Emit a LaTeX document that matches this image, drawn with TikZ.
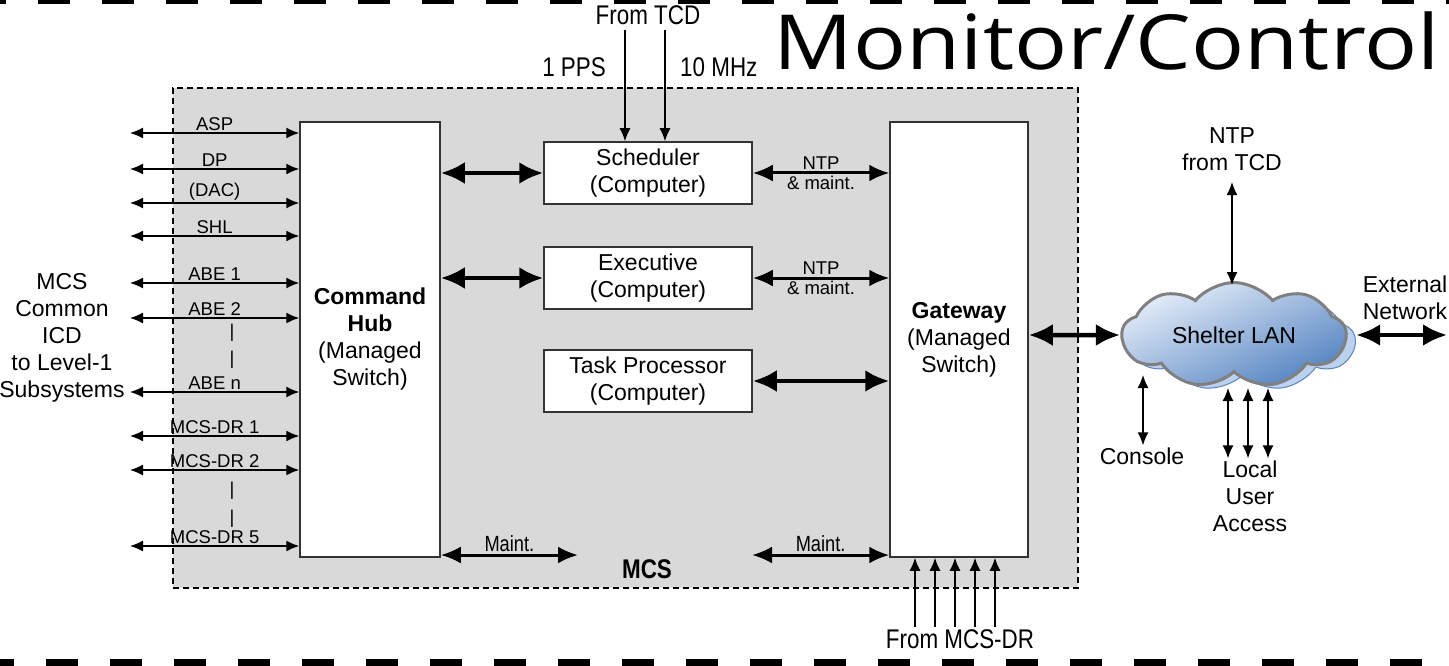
\documentclass[tikz,border=0pt]{standalone}
\usepackage{fontspec}
\setmainfont{Liberation Sans}
\newfontfamily\titlefont[FakeStretch=1.16]{Open Sans}
\newfontfamily\condfont[FakeStretch=0.83]{Liberation Sans}
\usetikzlibrary{arrows.meta,shapes.symbols,positioning}
\definecolor{mcsgray}{HTML}{D9D9D9}
\definecolor{lanlight}{HTML}{E6EEF9}
\definecolor{landark}{HTML}{5584C2}
\definecolor{lanshade}{HTML}{BCD1EE}
\newcommand{\lblfont}{\fontsize{18.5}{20}\selectfont}
\newcommand{\txtfont}{\fontsize{23}{27}\selectfont}
\newcommand{\condlbl}{\condfont\fontsize{27}{30}\selectfont}

\begin{document}
\begin{tikzpicture}[x=1pt, y=-1pt,
  box/.style={draw=black!80, line width=1.5pt, fill=white, font=\txtfont, align=center, inner sep=0pt},
  sigarrow/.style={line width=1.4pt, {Latex[length=13pt,width=11pt]}-{Latex[length=13pt,width=11pt]}},
  sigin/.style={line width=1.4pt, -{Latex[length=13pt,width=11pt]}},
  midarrow/.style={line width=3pt, {Latex[length=20pt,width=17pt]}-{Latex[length=20pt,width=17pt]}},
  busarrow/.style={line width=4.5pt, {Latex[length=24pt,width=22pt]}-{Latex[length=24pt,width=22pt]}},
  lbl/.style={font=\lblfont, inner sep=2pt},
  lanshape/.style={cloud, cloud puffs=9, cloud puff arc=100, aspect=2.3, minimum width=224pt, minimum height=100pt}]
\useasboundingbox (0,0) rectangle (1449,666);
% page frame dashes
\foreach \x in {-26,38,...,1446} \fill (\x,0) rectangle ++(32,4);
\foreach \x in {-18,46,...,1446} \fill (\x,659) rectangle ++(32,7);
\node[font=\titlefont\fontsize{76}{76}\selectfont, anchor=base east, inner sep=0pt] (title) at (1440,70) {Monitor/Control};
% MCS area
\node[draw, fill=mcsgray, line width=1.5pt, dash pattern=on 6pt off 4pt, minimum width=905pt, minimum height=500pt, inner sep=0pt] (mcs) at (625.5,338) {};
\node[font=\condlbl\bfseries, inner sep=0pt] (mcslbl) at (647,569) {MCS};
\node[box, minimum width=140pt, minimum height=435pt] (hub) at (370,339.5) {\textbf{Command}\\\textbf{Hub}\\(Managed\\Switch)};
\node[box, minimum width=138pt, minimum height=435pt] (gw) at (959,339.5) {\textbf{Gateway}\\(Managed\\Switch)};
\node[box, minimum width=208pt, minimum height=62pt] (sched) at (648,173) {Scheduler\\(Computer)};
\node[box, minimum width=208pt, minimum height=62pt] (exec) at (648,278) {Executive\\(Computer)};
\node[box, minimum width=208pt, minimum height=62pt] (task) at (648,381) {Task Processor\\(Computer)};
% level-1 links
\node[font=\txtfont, align=center] (icd) at (62,338) {MCS\\Common\\ICD\\to Level-1\\Subsystems};
\foreach \name/\y/\lab in {asp/133/ASP, dp/169/DP, dac/203/(DAC), shl/236/SHL, abeA/283/ABE 1, abeB/318/ABE 2, abeN/392/ABE n, drA/436/MCS-DR 1, drB/470/MCS-DR 2, drE/546/MCS-DR 5} {
  \coordinate (\name) at (130,\y);
  \draw[sigarrow] (\name) -- (\name -| hub.west) node[lbl, midway, above] {\lab};
}
\node[lbl] (barA) at (232,333) {|};
\node[lbl] (barB) at (232,360) {|};
\node[lbl] (barC) at (232,491) {|};
\node[lbl] (barD) at (232,519) {|};
% hub to computers
\draw[busarrow] (hub.east |- sched) -- (sched.west);
\draw[busarrow] (hub.east |- exec) -- (exec.west);
\draw[midarrow] (sched.east) -- (sched.east -| gw.west) node[lbl, midway, above] {NTP} node[lbl, midway, below] {\& maint.};
\draw[midarrow] (exec.east) -- (exec.east -| gw.west) node[lbl, midway, above] {NTP} node[lbl, midway, below] {\& maint.};
\draw[busarrow] (task.east) -- (task.east -| gw.west);
% maint
\coordinate (hubm) at (578,555);
\coordinate (gwm) at (752,555);
\draw[midarrow] (hub.east |- hubm) -- (hubm) node[midway, above, inner sep=2pt, font=\condfont\fontsize{22}{24}\selectfont] {Maint.};
\draw[midarrow] (gwm) -- (gwm -| gw.west) node[midway, above, inner sep=2pt, font=\condfont\fontsize{22}{24}\selectfont] {Maint.};
% timing from TCD
\node[font=\condlbl, inner sep=0pt] (tcd) at (648,15) {From TCD};
\node[font=\condlbl, inner sep=0pt, anchor=east] (pps) at (606,67) {1 PPS};
\node[font=\condlbl, inner sep=0pt, anchor=west] (mhz) at (680,67) {10 MHz};
\coordinate (ppsin) at (625,30);
\coordinate (mhzin) at (665,30);
\draw[sigin] (ppsin) -- (ppsin |- sched.north);
\draw[sigin] (mhzin) -- (mhzin |- sched.north);
% from MCS-DR
\node[font=\condlbl, inner sep=0pt] (frdr) at (960,639) {From MCS-DR};
\foreach \x in {915,935,...,995} {
  \coordinate (drx) at (\x,627);
  \draw[sigin] (drx) -- (drx |- gw.south);
}
% shelter LAN
\node[lanshape, fill=lanshade, draw=landark, line width=1pt] (lanshadow) at (1243,341) {};
\node[lanshape, top color=lanlight, bottom color=landark, shading angle=25, draw=black!50, line width=3pt, font=\txtfont] (lan) at (1234,335) {Shelter LAN};
\draw[busarrow] (gw.east |- lan) -- (lan.west);
\node[font=\txtfont, align=center] (ext) at (1405,298) {External\\Network};
\coordinate (extend) at (1447,340);
\draw[busarrow] (lan.east -| lanshadow.east) -- (lan.east -| extend);
\node[font=\txtfont, align=center] (ntp) at (1232,149) {NTP\\from TCD};
\draw[sigarrow] ([yshift=-8pt]ntp.south) -- ([yshift=-4pt]ntp.south |- lan.north);
\node[font=\txtfont, inner sep=2pt] (console) at (1142,456) {Console};
\coordinate (conA) at (1143,375);
\draw[sigarrow] (conA) -- (conA |- console.north);
\node[font=\txtfont, align=center, inner sep=2pt] (lua) at (1250,496) {Local\\User\\Access};
\foreach \x in {1228,1248,1268} {
  \coordinate (lu) at (\x,388);
  \draw[sigarrow] (lu) -- (lu |- lua.north);
}
\end{tikzpicture}
\end{document}
